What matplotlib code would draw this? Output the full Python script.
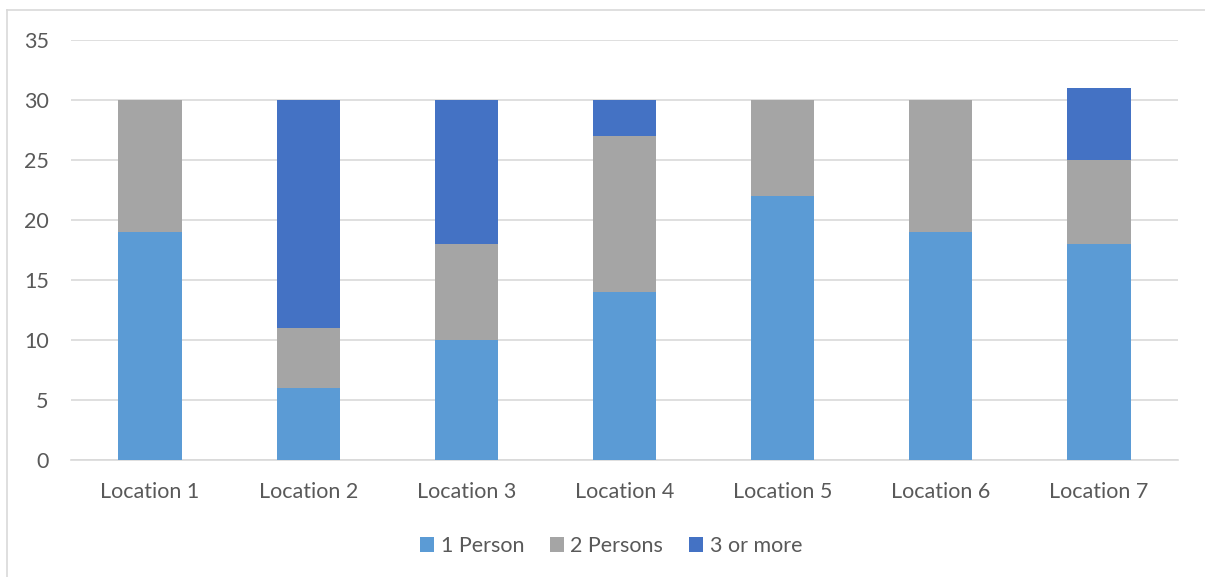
import matplotlib.pyplot as plt
import numpy as np
from matplotlib.lines import Line2D

plt.rcParams['font.family'] = ['Lato', 'DejaVu Sans']

locations = ['Location 1', 'Location 2', 'Location 3', 'Location 4',
             'Location 5', 'Location 6', 'Location 7']
one_person = [19, 6, 10, 14, 22, 19, 18]
two_persons = [11, 5, 8, 13, 8, 11, 7]
three_or_more = [0, 19, 12, 3, 0, 0, 6]

series_names = ['1 Person', '2 Persons', '3 or more']
colors = ['#5B9BD5', '#A5A5A5', '#4472C4']
text_color = '#595959'
grid_color = '#D9D9D9'

fig = plt.figure(figsize=(12.05, 5.77), dpi=100)
ax = fig.add_axes([0.0589, 0.2028, 0.9187, 0.7279])

x = np.arange(len(locations))
bottom = np.zeros(len(locations))
for vals, name, c in zip([one_person, two_persons, three_or_more], series_names, colors):
    ax.bar(x, vals, width=0.4, bottom=bottom, color=c, label=name, zorder=3)
    bottom += np.array(vals)

ax.set_xlim(-0.5, len(locations) - 0.5)
ax.set_ylim(0, 35)
ax.set_yticks(range(0, 36, 5))
ax.set_xticks(x)
ax.set_xticklabels(locations)
ax.tick_params(axis='both', length=0, colors=text_color, labelsize=15.5)
ax.tick_params(axis='y', pad=16)
ax.tick_params(axis='x', pad=16)
ax.grid(axis='y', color=grid_color, linewidth=1.2, zorder=0)
for s in ['top', 'right', 'left']:
    ax.spines[s].set_visible(False)
ax.spines['bottom'].set_color(grid_color)
ax.spines['bottom'].set_linewidth(1.2)

ax.legend(loc='center', bbox_to_anchor=(0.488, -0.205), ncol=3, frameon=False,
          fontsize=15.5, labelcolor=text_color, handlelength=0.65, handleheight=0.65,
          handletextpad=0.3, columnspacing=1.2)

# outer chart frame
fig.add_artist(Line2D([7 / 1205, 1.0], [1 - 10 / 577, 1 - 10 / 577], color=grid_color, lw=1.2))
fig.add_artist(Line2D([7 / 1205, 7 / 1205], [0, 1 - 10 / 577], color=grid_color, lw=1.2))

fig.savefig('out.png', dpi=100, facecolor='white')
